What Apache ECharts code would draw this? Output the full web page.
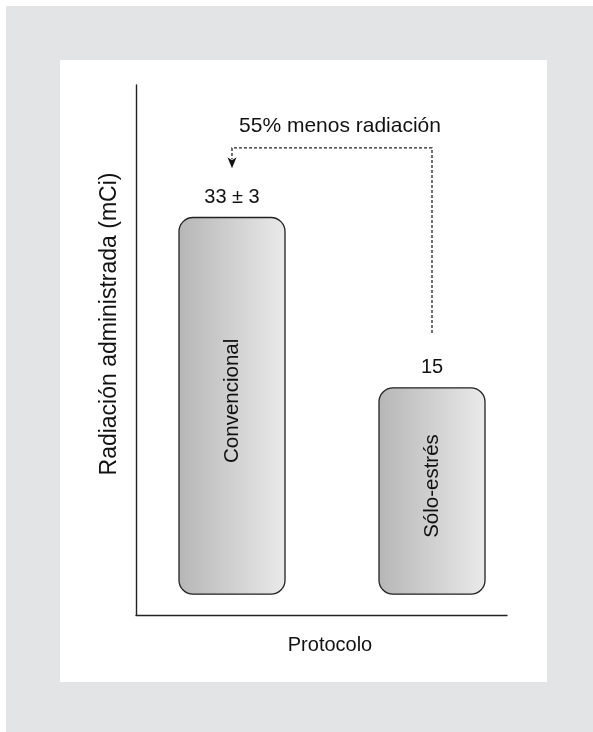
<!DOCTYPE html>
<html>
<head>
<meta charset="utf-8">
<title>Radiación administrada</title>
<script src="https://cdn.jsdelivr.net/npm/echarts@6/dist/echarts.min.js"></script>
<style>
  html, body { margin: 0; padding: 0; background: #fff; }
  #main { width: 593px; height: 732px; }
</style>
</head>
<body>
<div id="main"></div>
<script>
// datos del gráfico
var categories = ['Convencional', 'Sólo-estrés'];
var values = [33, 15];
var valueLabels = ['33 ± 3', '15'];
var arrowText = '55% menos radiación';

// valor donde empiezan las barras (no arrancan en el eje)
var baseline = -6.8;
// flecha: sale de la barra 2, sube, va a la izquierda y baja hacia la barra 1
var arrowStart = 20.8;
var arrowTop = 40.35;
var arrowEnd = 38.2;

var FONT = '"Liberation Sans", Arial, sans-serif';
var myChart = echarts.init(document.getElementById('main'));

var barFill = new echarts.graphic.LinearGradient(0, 0, 1, 0, [
  { offset: 0, color: '#b6b6b6' },
  { offset: 1, color: '#eaeaea' }
]);

var option = {
  animation: false,
  graphic: [
    { type: 'rect', z: -10, shape: { x: 6, y: 6, width: 587, height: 726 }, style: { fill: '#e3e4e6' } },
    { type: 'rect', z: -9, shape: { x: 60, y: 60, width: 487, height: 622 }, style: { fill: '#ffffff' } },
    {
      type: 'text', x: 110, y: 324, rotation: Math.PI / 2,
      style: { text: 'Radiación administrada (mCi)', font: '23px ' + FONT, fill: '#111', align: 'center', verticalAlign: 'middle' }
    },
    {
      type: 'text', x: 330, y: 645,
      style: { text: 'Protocolo', font: '20px ' + FONT, fill: '#111', align: 'center', verticalAlign: 'middle' }
    }
  ],
  grid: { left: 136, right: 86, top: 85, bottom: 117 },
  xAxis: {
    type: 'value', min: -0.48, max: 1.375,
    axisLine: { show: true, onZero: false, lineStyle: { color: '#222', width: 1.4 } },
    axisTick: { show: false }, axisLabel: { show: false }, splitLine: { show: false }
  },
  yAxis: {
    type: 'value', min: -9, max: 47,
    axisLine: { show: true, onZero: false, lineStyle: { color: '#222', width: 1.4 } },
    axisTick: { show: false }, axisLabel: { show: false }, splitLine: { show: false }
  },
  series: [
    {
      type: 'custom',
      data: values.map(function (v, i) { return [i, v]; }),
      renderItem: function (params, api) {
        var i = params.dataIndex;
        var top = api.coord([api.value(0), api.value(1)]);
        var base = api.coord([api.value(0), baseline]);
        var w = 106;
        return {
          type: 'group',
          children: [
            {
              type: 'rect',
              shape: { x: top[0] - w / 2, y: top[1], width: w, height: base[1] - top[1], r: 14 },
              style: { fill: barFill, stroke: '#222', lineWidth: 1.3 }
            },
            {
              type: 'text', x: top[0], y: (top[1] + base[1]) / 2 - 5, rotation: Math.PI / 2,
              style: { text: categories[i], font: '20.5px ' + FONT, fill: '#111', align: 'center', verticalAlign: 'middle' }
            },
            {
              type: 'text', x: top[0], y: top[1] - 20,
              style: { text: valueLabels[i], font: '20px ' + FONT, fill: '#111', align: 'center', verticalAlign: 'middle' }
            }
          ]
        };
      }
    },
    {
      type: 'custom',
      data: [[0, 1]],
      renderItem: function (params, api) {
        var p0 = api.coord([1, arrowStart]);
        var p1 = api.coord([1, arrowTop]);
        var p2 = api.coord([0, arrowTop]);
        var p3 = api.coord([0, arrowEnd]);
        var t = api.coord([0.54, 42.6]);
        return {
          type: 'group',
          children: [
            {
              type: 'polyline',
              shape: { points: [p0, p1, p2, [p3[0], p3[1] - 9]] },
              style: { stroke: '#222', lineWidth: 1.3, lineDash: [3, 2], fill: null }
            },
            {
              type: 'polygon',
              shape: { points: [[p3[0] - 4.5, p3[1] - 11], [p3[0], p3[1] - 8], [p3[0] + 4.5, p3[1] - 11], [p3[0], p3[1]]] },
              style: { fill: '#111' }
            },
            {
              type: 'text', x: t[0], y: t[1],
              style: { text: arrowText, font: '21px ' + FONT, fill: '#111', align: 'center', verticalAlign: 'middle' }
            }
          ]
        };
      }
    }
  ]
};

myChart.setOption(option);
</script>
</body>
</html>
